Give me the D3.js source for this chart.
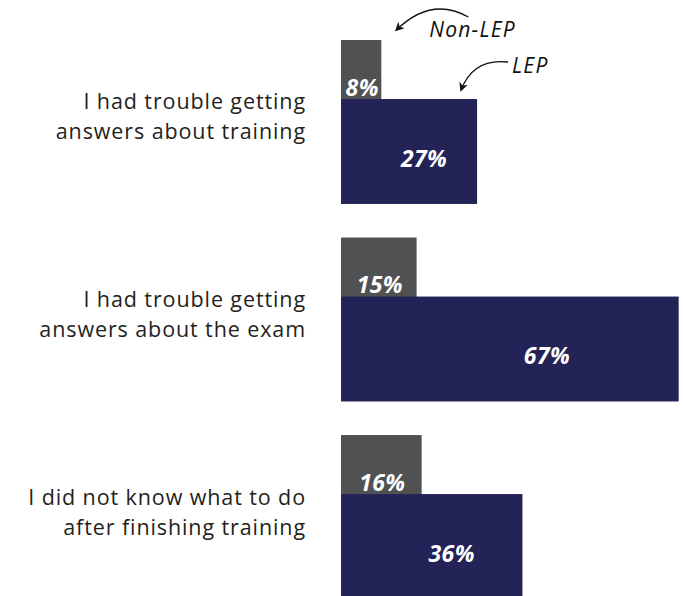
<!DOCTYPE html>
<html>
<head>
<meta charset="utf-8">
<script src="https://cdn.jsdelivr.net/npm/d3@7"></script>
<style>
  html, body { margin: 0; padding: 0; background: #fff; }
  svg { display: block; }
</style>
</head>
<body>
<svg id="chart" width="683" height="596"></svg>
<script>
// Survey statements (each split over two lines)
const categories = [
  "I had trouble getting|answers about training",
  "I had trouble getting|answers about the exam",
  "I did not know what to do|after finishing training"
];
const nonLep = [8, 15, 16];   // Non-LEP respondents, %
const lep = [27, 67, 36];     // LEP respondents, %
const seriesNames = ["Non-LEP", "LEP"];

const grey = "#505153", navy = "#232357";
const labelFont = "'Open Sans', 'Noto Sans', sans-serif";

const svg = d3.select("#chart");

const x = d3.scaleLinear().domain([0, 100]).range([341, 845]);
const y = d3.scaleBand().domain(categories).range([40, 599]).paddingInner(0.17).paddingOuter(0);
const bw = y.bandwidth();
const barH = bw * 0.64;          // height of each bar
const lepOffset = bw * 0.36;     // LEP bar is shifted down, overlapping the Non-LEP one

const data = categories.map((c, i) => ({ cat: c, non: nonLep[i], lep: lep[i] }));

const g = svg.selectAll("g.group").data(data).join("g").attr("class", "group");

// Non-LEP (grey) bar, drawn first so the LEP bar sits over its lower part
g.append("rect")
  .attr("x", x(0))
  .attr("y", d => y(d.cat))
  .attr("width", d => x(d.non) - x(0))
  .attr("height", barH)
  .attr("fill", grey);

g.append("rect")
  .attr("x", x(0))
  .attr("y", d => y(d.cat) + lepOffset)
  .attr("width", d => x(d.lep) - x(0))
  .attr("height", barH)
  .attr("fill", navy);

// Value labels
g.append("text")
  .attr("x", d => (x(0) + x(d.non)) / 2 + 1)
  .attr("y", d => y(d.cat) + barH / 2 - 5)
  .attr("dy", "0.35em")
  .attr("text-anchor", "middle")
  .attr("fill", "#fff")
  .style("font", `italic bold 23px ${labelFont}`)
  .style("letter-spacing", "0.4px")
  .text(d => d.non + "%");

g.append("text")
  .attr("x", d => x(0) + (x(d.lep) - x(0)) * 0.61)
  .attr("y", d => y(d.cat) + lepOffset + barH * 0.57)
  .attr("dy", "0.35em")
  .attr("text-anchor", "middle")
  .attr("fill", "#fff")
  .style("font", `italic bold 23px ${labelFont}`)
  .style("letter-spacing", "0.4px")
  .text(d => d.lep + "%");

// Category labels, right aligned to the left of the bars
g.append("text")
  .attr("text-anchor", "end")
  .attr("fill", "#231f20")
  .style("font", `21.5px ${labelFont}`)
  .style("letter-spacing", "0.9px")
  .each(function (d) {
    const lines = d.cat.split("|");
    const cy = y(d.cat) + bw / 2 - 5;
    const lh = 30;
    d3.select(this).selectAll("tspan").data(lines).join("tspan")
      .attr("x", x(0) - 35)
      .attr("y", (l, j) => cy + (j - (lines.length - 1) / 2) * lh)
      .attr("dy", "0.35em")
      .text(l => l);
  });

// Series annotations with curved arrows, anchored on the first group's bars
const first = data[0];
const gTop = y(first.cat);
const nonEnd = x(first.non);
const lepEnd = x(first.lep);

svg.append("defs").append("marker")
  .attr("id", "arrow")
  .attr("viewBox", "0 0 10 10")
  .attr("refX", 8).attr("refY", 5)
  .attr("markerWidth", 7).attr("markerHeight", 7)
  .attr("orient", "auto")
  .append("path")
  .attr("d", "M0,0 L10,5 L0,10 L3,5 Z")
  .attr("fill", "#111");

const annotations = [
  { name: seriesNames[0], tx: nonEnd + 48, ty: gTop - 10,
    path: `M${nonEnd + 87},${gTop - 23} Q${nonEnd + 50},${gTop - 44} ${nonEnd + 15},${gTop - 10}` },
  { name: seriesNames[1], tx: lepEnd + 35, ty: gTop + 26,
    path: `M${lepEnd + 31},${gTop + 22} Q${lepEnd - 4},${gTop + 18} ${lepEnd - 16},${gTop + 50}` }
];

svg.selectAll("path.anno").data(annotations).join("path")
  .attr("class", "anno")
  .attr("d", d => d.path)
  .attr("fill", "none")
  .attr("stroke", "#111")
  .attr("stroke-width", 1.3)
  .attr("marker-end", "url(#arrow)");

svg.selectAll("text.anno").data(annotations).join("text")
  .attr("class", "anno")
  .attr("x", d => d.tx)
  .attr("y", d => d.ty)
  .attr("dy", "0.35em")
  .attr("fill", "#111")
  .style("font", `italic 21px ${labelFont}`)
  .style("letter-spacing", "1.2px")
  .text(d => d.name);
</script>
</body>
</html>
